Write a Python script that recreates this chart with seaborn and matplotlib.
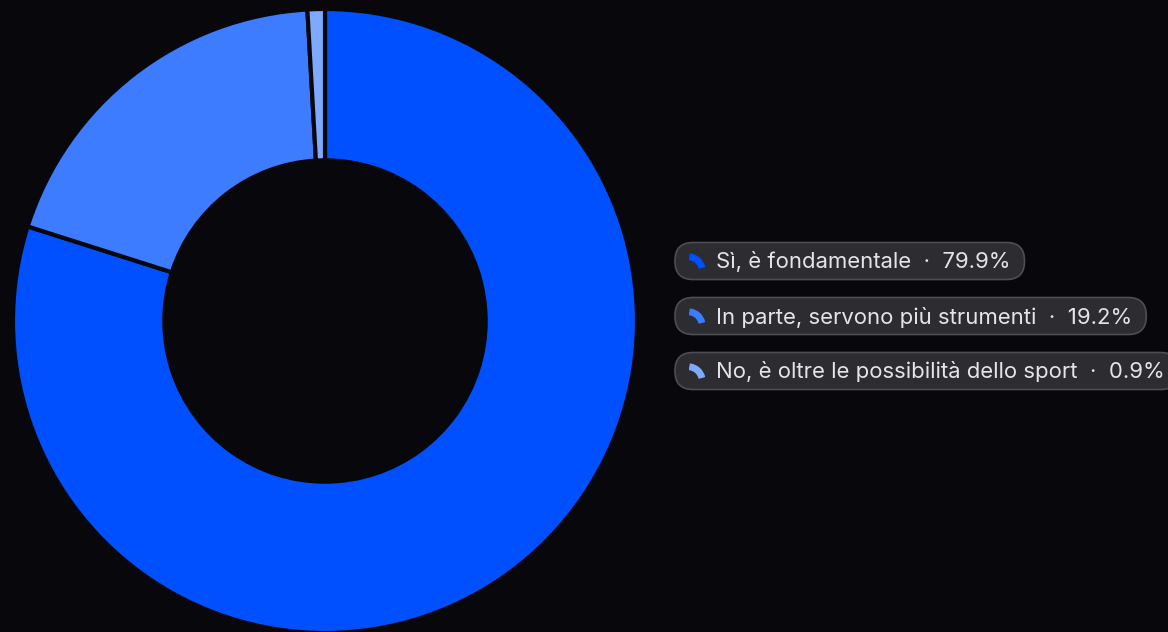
import matplotlib
matplotlib.use("Agg")
import matplotlib.pyplot as plt
import seaborn as sns
from matplotlib.patches import Wedge, FancyBboxPatch

# data
labels = ["Sì, è fondamentale", "In parte, servono più strumenti", "No, è oltre le possibilità dello sport"]
values = [79.9, 19.2, 0.9]
colors = ["#0050ff", "#3d7bff", "#7fa8ff"]

bg = "#08080c"
sns.set_theme(style="dark", rc={"figure.facecolor": bg, "axes.facecolor": bg, "savefig.facecolor": bg})
plt.rcParams["font.family"] = ["Inter", "DejaVu Sans"]

W, H = 1168, 632
fig = plt.figure(figsize=(W / 100, H / 100), dpi=100)

# donut: center (325, 321) px, outer radius 312 px
cx, cy, r = 325, 321, 312
ax = fig.add_axes([(cx - r) / W, (H - cy - r) / H, 2 * r / W, 2 * r / H])
wedges, _ = ax.pie(values, colors=sns.color_palette(colors), startangle=90, counterclock=False,
                   radius=1, wedgeprops=dict(width=0.485, edgecolor=bg, linewidth=3, joinstyle="round"))
ax.set_xlim(-1, 1)
ax.set_ylim(-1, 1)
ax.set_aspect("equal")
ax.axis("off")

# legend pills
lax = fig.add_axes([0, 0, 1, 1])
lax.set_xlim(0, W)
lax.set_ylim(0, H)
lax.axis("off")

ys = [261, 316, 371]
texts = []
for lab, val, col, y in zip(labels, values, colors, ys):
    yy = H - y
    t = lax.text(716, yy - 1, f"{lab}  ·  {val:.1f}%", color="#e4e4ea", fontsize=15.9, va="center", ha="left", zorder=3)
    texts.append(t)
    lax.add_patch(Wedge((688, yy - 10), 17, 15, 82, width=5.5, color=col, zorder=3, joinstyle="round"))

fig.canvas.draw()
rend = fig.canvas.get_renderer()
for t, y in zip(texts, ys):
    bb = t.get_window_extent(renderer=rend)
    x1 = bb.x1 + 14
    yy = H - y
    lax.add_patch(FancyBboxPatch((675, yy - 18.5), x1 - 675, 37,
                                 boxstyle="round,pad=0,rounding_size=18",
                                 facecolor="#2c2c31", edgecolor="#4d4d54", linewidth=1.2, zorder=2))

fig.savefig("out.png", dpi=100)
